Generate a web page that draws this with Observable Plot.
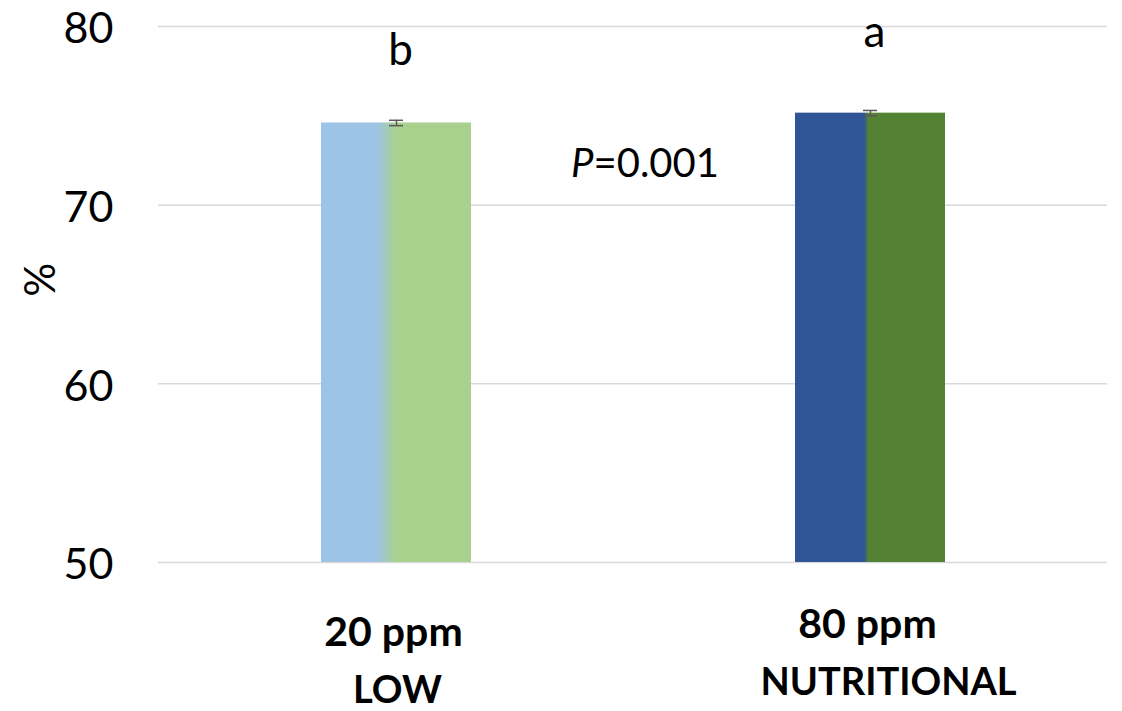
<!DOCTYPE html>
<html><head><meta charset="utf-8">
<script src="https://cdn.jsdelivr.net/npm/d3@7"></script>
<script src="https://cdn.jsdelivr.net/npm/@observablehq/plot@0.6"></script>
<style>html,body{margin:0;padding:0;background:#fff;}</style>
</head><body><div id="chart"></div>
<script>
// ---- data ----
const categories = ["20 ppm", "80 ppm"];
const levels = ["LOW", "NUTRITIONAL"];
const values = [74.6, 75.15];
const errors = [0.15, 0.15];
const letters = ["b", "a"];
const pLabel = ["P", "=0.001"];
const yTicks = [50, 60, 70, 80];
const yLabel = "%";

// ---- styles ----
const blues = ["#9DC3E6", "#2F5597"];
const greens = ["#A9D18E", "#548235"];
const blendStops = [[0.37, 0.5], [0.46, 0.49]];
const letterDy = [-72, -80];
const doseDy = [54, 46], doseDx = [-3, -3];
const levelDy = [114, 106], levelDx = [1, 18];
const font = "Lato, 'Open Sans', sans-serif";

const data = categories.map((c, i) => ({cat: c, level: levels[i], value: values[i], err: errors[i], letter: letters[i]}));

const marks = [
  Plot.gridY(yTicks, {stroke: "#d9d9d9", strokeOpacity: 1, strokeWidth: 1.5}),
  ...data.map((d, i) => Plot.barY([d], {x: "cat", y1: yTicks[0], y2: "value", fill: `url(#barGrad${i})`})),
  Plot.ruleX(data, {x: "cat", y1: d => d.value - d.err, y2: d => d.value + d.err, stroke: "#595959", strokeWidth: 1.5}),
  Plot.tickY(data, {x: "cat", y: d => d.value - d.err, stroke: "#595959", strokeWidth: 1.5, insetLeft: 68, insetRight: 68}),
  Plot.tickY(data, {x: "cat", y: d => d.value + d.err, stroke: "#595959", strokeWidth: 1.5, insetLeft: 68, insetRight: 68}),
  Plot.axisY({ticks: yTicks, tickSize: 0, tickPadding: 45, fontSize: 43, dy: 3, label: null}),
  Plot.text([yLabel], {text: d => d, frameAnchor: "left", dx: -117, dy: 2, rotate: -90, fontSize: 42}),
  ...data.map((d, i) => Plot.text([d], {x: "cat", y: "value", text: "letter", dx: 4, dy: letterDy[i], fontSize: 44})),
  Plot.text([pLabel.join("")], {text: d => d, frameAnchor: "middle", dx: 12, dy: -130, fontSize: 40}),
  ...data.map((d, i) => Plot.text([d], {x: "cat", text: "cat", frameAnchor: "bottom", lineAnchor: "top", dy: doseDy[i], dx: doseDx[i], fontSize: 41, fontWeight: "bold"})),
  ...data.map((d, i) => Plot.text([d], {x: "cat", text: "level", frameAnchor: "bottom", lineAnchor: "top", dy: levelDy[i], dx: levelDx[i], fontSize: 38, fontWeight: "bold"}))
];

const plot = Plot.plot({
  width: 1122,
  height: 711,
  marginLeft: 158,
  marginRight: 15,
  marginTop: 26,
  marginBottom: 149,
  style: {fontFamily: font, color: "#000", background: "#fff", overflow: "visible"},
  x: {domain: categories, paddingInner: 0.684, paddingOuter: 0.342, axis: null},
  y: {domain: [yTicks[0], yTicks[yTicks.length - 1]]},
  marks
});

const svg = d3.select(plot);
const defs = svg.insert("defs", ":first-child");
data.forEach((d, i) => {
  const g = defs.append("linearGradient").attr("id", `barGrad${i}`)
    .attr("x1", 0).attr("x2", 1).attr("y1", 0).attr("y2", 0);
  g.append("stop").attr("offset", blendStops[i][0]).attr("stop-color", blues[i]);
  g.append("stop").attr("offset", blendStops[i][1]).attr("stop-color", greens[i]);
});
svg.selectAll("text").each(function() {
  if (this.textContent === pLabel.join("")) {
    const t = d3.select(this);
    t.text(null);
    t.append("tspan").attr("font-style", "italic").text(pLabel[0]);
    t.append("tspan").text(pLabel[1]);
  }
});
document.getElementById("chart").appendChild(plot);
</script>
</body></html>
